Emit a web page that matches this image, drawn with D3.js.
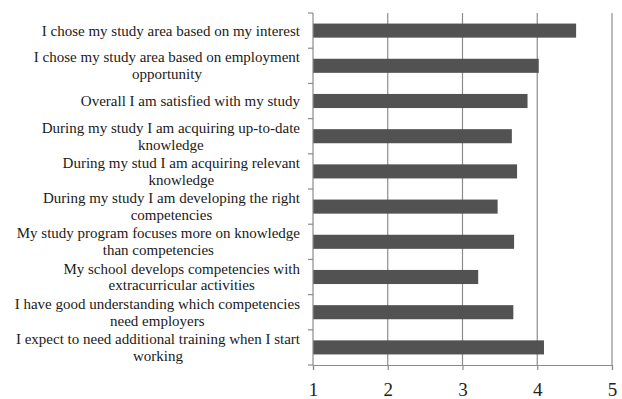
<!DOCTYPE html>
<html>
<head>
<meta charset="utf-8">
<script src="https://cdn.jsdelivr.net/npm/d3@7"></script>
<style>
  html, body { margin: 0; padding: 0; background: #fff; }
  svg { display: block; }
</style>
</head>
<body>
<div id="chart"></div>
<script>
// Survey statements (each entry is a list of wrapped lines)
const statements = [
  ["I chose my study area based on my interest"],
  ["I chose my study area based on employment", "opportunity"],
  ["Overall I am satisfied with my study"],
  ["During my study I am acquiring up-to-date", "knowledge"],
  ["During my stud I am acquiring relevant", "knowledge"],
  ["During my study I am developing the right", "competencies"],
  ["My study program focuses more on knowledge", "than competencies"],
  ["My school develops competencies with", "extracurricular activities"],
  ["I have good understanding which competencies", "need employers"],
  ["I expect to need additional training when I start", "working"]
];
// Mean agreement score per statement
const scores = [4.52, 4.02, 3.87, 3.66, 3.73, 3.47, 3.69, 3.21, 3.68, 4.09];
const xTicks = [1, 2, 3, 4, 5];

const W = 622, H = 399;
const margin = { top: 13, right: 10, bottom: 34, left: 313 };
const plotW = 612 - margin.left;
const plotH = 365 - margin.top;

const svg = d3.select("#chart").append("svg")
  .attr("width", W).attr("height", H);

const g = svg.append("g").attr("transform", `translate(${margin.left},${margin.top})`);

const ids = statements.map((d, i) => i);
const x = d3.scaleLinear().domain([1, 5]).range([0, plotW]);
const y = d3.scaleBand().domain(ids).range([0, plotH]).paddingInner(0.6).paddingOuter(0.3);

const axisColor = "#8c8c8c";

// vertical gridlines
g.selectAll("line.grid").data(xTicks.slice(1)).enter().append("line")
  .attr("class", "grid")
  .attr("x1", d => x(d)).attr("x2", d => x(d))
  .attr("y1", 0).attr("y2", plotH)
  .attr("stroke", axisColor).attr("stroke-width", 1.2);

// bars
g.selectAll("rect.bar").data(scores).enter().append("rect")
  .attr("class", "bar")
  .attr("x", x(1))
  .attr("y", (d, i) => y(i))
  .attr("width", d => x(d) - x(1))
  .attr("height", y.bandwidth())
  .attr("fill", "#525252");

// bottom axis
const xAxis = g.append("g").attr("transform", `translate(0,${plotH})`)
  .call(d3.axisBottom(x).tickValues(xTicks).tickSize(5).tickPadding(13).tickFormat(d3.format("d")));
xAxis.select(".domain").attr("stroke", axisColor).attr("stroke-width", 1.2);
xAxis.selectAll(".tick line").attr("stroke", axisColor).attr("stroke-width", 1.2);
xAxis.selectAll(".tick text")
  .attr("font-family", "'Liberation Serif', 'DejaVu Serif', serif")
  .attr("font-size", 19).attr("fill", "#222");

// left axis with ticks at category boundaries
const step = plotH / statements.length;
const boundaries = d3.range(statements.length + 1).map(i => i * step);
g.append("line")
  .attr("x1", 0).attr("x2", 0).attr("y1", 0).attr("y2", plotH)
  .attr("stroke", axisColor).attr("stroke-width", 1.2);
g.selectAll("line.ytick").data(boundaries).enter().append("line")
  .attr("class", "ytick")
  .attr("x1", -5).attr("x2", 0)
  .attr("y1", d => d).attr("y2", d => d)
  .attr("stroke", axisColor).attr("stroke-width", 1.2);

// category labels: block right-aligned, lines centered within the block
const labelRight = -13;
const lineH = 16.7;
const labels = g.selectAll("g.label").data(statements).enter().append("g")
  .attr("class", "label");
labels.each(function(lines, i) {
  const grp = d3.select(this);
  const cy = y(i) + y.bandwidth() / 2;
  const y0 = cy - (lines.length - 1) * lineH / 2 + 5;
  const texts = lines.map((ln, k) => grp.append("text")
    .attr("y", y0 + k * lineH)
    .attr("font-family", "'Liberation Serif', 'Times New Roman', serif")
    .attr("font-size", 15)
    .attr("fill", "#1a1a1a")
    .attr("text-anchor", "middle")
    .text(ln));
  const widths = texts.map(t => t.node().getComputedTextLength());
  const bw = d3.max(widths);
  texts.forEach(t => t.attr("x", labelRight - bw / 2));
});
</script>
</body>
</html>
